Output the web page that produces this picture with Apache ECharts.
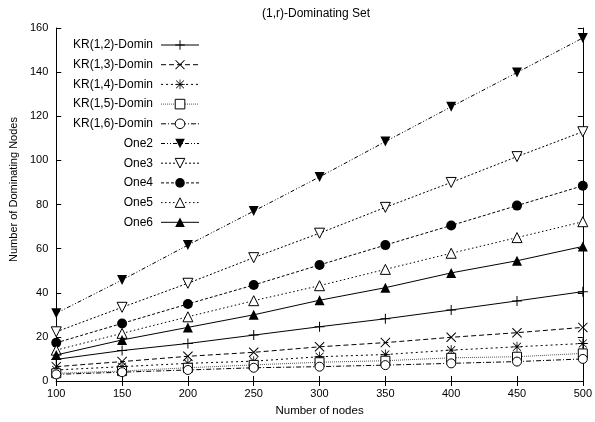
<!DOCTYPE html>
<html>
<head>
<meta charset="utf-8">
<script src="https://cdn.jsdelivr.net/npm/echarts@6/dist/echarts.min.js"></script>
<style>html,body{margin:0;padding:0;background:#fff;}#c{width:595px;height:422px;}</style>
</head>
<body>
<div id="c"></div>
<script>
const nodes = [100, 150, 200, 250, 300, 350, 400, 450, 500];
const kr12 = [9.8, 13.8, 17, 20.8, 24.6, 28.2, 32.2, 36.3, 40.5];
const kr13 = [6.5, 8.8, 11.2, 13, 15.5, 17.4, 19.8, 21.9, 24.3];
const kr14 = [5, 6.5, 8, 9, 11, 12, 14, 15.5, 17];
const kr15 = [3.5, 4.5, 6, 7.3, 8.5, 9.2, 10.5, 11, 12.5];
const kr16 = [3, 4, 5, 6, 6.5, 7.2, 8, 8.8, 10];
const one2 = [30.7, 45.8, 61.6, 77, 92.5, 108.5, 124.3, 139.8, 155.5];
const one3 = [22.3, 33.4, 44.3, 55.9, 67, 78.7, 90, 101.7, 113];
const one4 = [17.3, 26.1, 34.9, 43.5, 52.6, 61.6, 70.5, 79.5, 88.5];
const one5 = [14, 21.6, 29.1, 36.4, 43.2, 50.6, 57.9, 65, 72.2];
const one6 = [11.8, 18.6, 24.3, 30, 36.6, 42.3, 49, 54.5, 61];
const names = ['KR(1,2)-Domin', 'KR(1,3)-Domin', 'KR(1,4)-Domin', 'KR(1,5)-Domin', 'KR(1,6)-Domin',
               'One2', 'One3', 'One4', 'One5', 'One6'];
const xTicks = [100, 500, 50];
const yTicks = [0, 160, 20];

const PLUS = 'path://M4.5,0H5.5V4.5H10V5.5H5.5V10H4.5V5.5H0V4.5H4.5Z';
const CROSS = 'path://M0.7,0L5,4.3L9.3,0L10,0.7L5.7,5L10,9.3L9.3,10L5,5.7L0.7,10L0,9.3L4.3,5L0,0.7Z';
const STAR = 'path://M4.6,0H5.4V4.04L8.7,0.74L9.26,1.3L5.96,4.6H10V5.4H5.96L9.26,8.7L8.7,9.26L5.4,5.96V10H4.6V5.96L1.3,9.26L0.74,8.7L4.04,5.4H0V4.6H4.04L0.74,1.3L1.3,0.74L4.6,4.04Z';

const styles = [
  {data: kr12, symbol: PLUS, size: 10, fill: '#000', border: 0, dash: 'solid'},
  {data: kr13, symbol: CROSS, size: 10, fill: '#000', border: 0, dash: [5, 3]},
  {data: kr14, symbol: STAR, size: 10, fill: '#000', border: 0, dash: [2, 3]},
  {data: kr15, symbol: 'rect', size: 9, fill: '#fff', border: 1, dash: [1, 1], lc: '#555'},
  {data: kr16, symbol: 'circle', size: 9, fill: '#fff', border: 1, dash: [5, 2, 1, 2]},
  {data: one2, symbol: 'triangle', rot: 180, size: 10, fill: '#000', border: 0, dash: [4, 2, 1, 2, 1, 2]},
  {data: one3, symbol: 'triangle', rot: 180, size: 10, fill: '#fff', border: 1, dash: [2, 2]},
  {data: one4, symbol: 'circle', size: 10, fill: '#000', border: 0, dash: [3, 2]},
  {data: one5, symbol: 'triangle', size: 10, fill: '#fff', border: 1, dash: [1.5, 2.5]},
  {data: one6, symbol: 'triangle', size: 10, fill: '#000', border: 0, dash: 'solid'}
];

const FONT = 'Liberation Sans, Arial, Helvetica, sans-serif';
const series = styles.map((s, i) => ({
  name: names[i],
  type: 'line',
  data: nodes.map((n, j) => [n, s.data[j]]),
  symbol: s.symbol,
  symbolSize: s.size,
  symbolRotate: s.rot || 0,
  showAllSymbol: true,
  clip: false,
  animation: false,
  lineStyle: {color: s.lc || '#000', width: 1, type: s.dash},
  itemStyle: {color: s.fill, borderColor: '#000', borderWidth: s.border},
  emphasis: {disabled: true},
  z: 3 + i
}));

const axisCommon = {
  type: 'value',
  axisLine: {show: true, lineStyle: {color: '#000', width: 1}},
  axisTick: {show: true, inside: true, length: 5, lineStyle: {color: '#000'}},
  splitLine: {show: false}
};

const chart = echarts.init(document.getElementById('c'), null, {renderer: 'canvas'});
chart.setOption({
  backgroundColor: '#fff',
  animation: false,
  title: {
    text: '(1,r)-Dominating Set',
    left: 257, top: 3,
    textStyle: {fontFamily: FONT, fontSize: 12, fontWeight: 'normal', color: '#000'}
  },
  grid: {left: 53, right: 10, top: 28, bottom: 41, containLabel: false},
  legend: {
    orient: 'vertical',
    align: 'right',
    left: 68, top: 34,
    itemWidth: 38, itemHeight: 12, itemGap: 7.7,
    padding: 5,
    lineStyle: {width: 'inherit'},
    itemStyle: {borderWidth: 'inherit'},
    textStyle: {fontFamily: FONT, fontSize: 12, color: '#000', padding: [0, 3, 0, 0]},
    data: names,
    selectedMode: false
  },
  xAxis: [
    Object.assign({}, axisCommon, {
      position: 'bottom', min: xTicks[0], max: xTicks[1], interval: xTicks[2],
      name: 'Number of nodes', nameLocation: 'middle', nameGap: 24,
      nameTextStyle: {fontFamily: FONT, fontSize: 11.5, color: '#000'},
      axisLabel: {fontFamily: FONT, fontSize: 11, color: '#000', margin: 7}
    }),
    Object.assign({}, axisCommon, {
      position: 'top', min: xTicks[0], max: xTicks[1], interval: xTicks[2],
      axisLabel: {show: false}
    })
  ],
  yAxis: [
    Object.assign({}, axisCommon, {
      position: 'left', min: yTicks[0], max: yTicks[1], interval: yTicks[2],
      name: 'Number of Dominating Nodes', nameLocation: 'middle', nameGap: 35, nameRotate: 90,
      nameTextStyle: {fontFamily: FONT, fontSize: 11, color: '#000', padding: [0, 0, 0, 30]},
      axisLabel: {fontFamily: FONT, fontSize: 11, color: '#000', margin: 8}
    }),
    Object.assign({}, axisCommon, {
      position: 'right', min: yTicks[0], max: yTicks[1], interval: yTicks[2],
      axisLabel: {show: false}
    })
  ],
  series: series
});
</script>
</body>
</html>
